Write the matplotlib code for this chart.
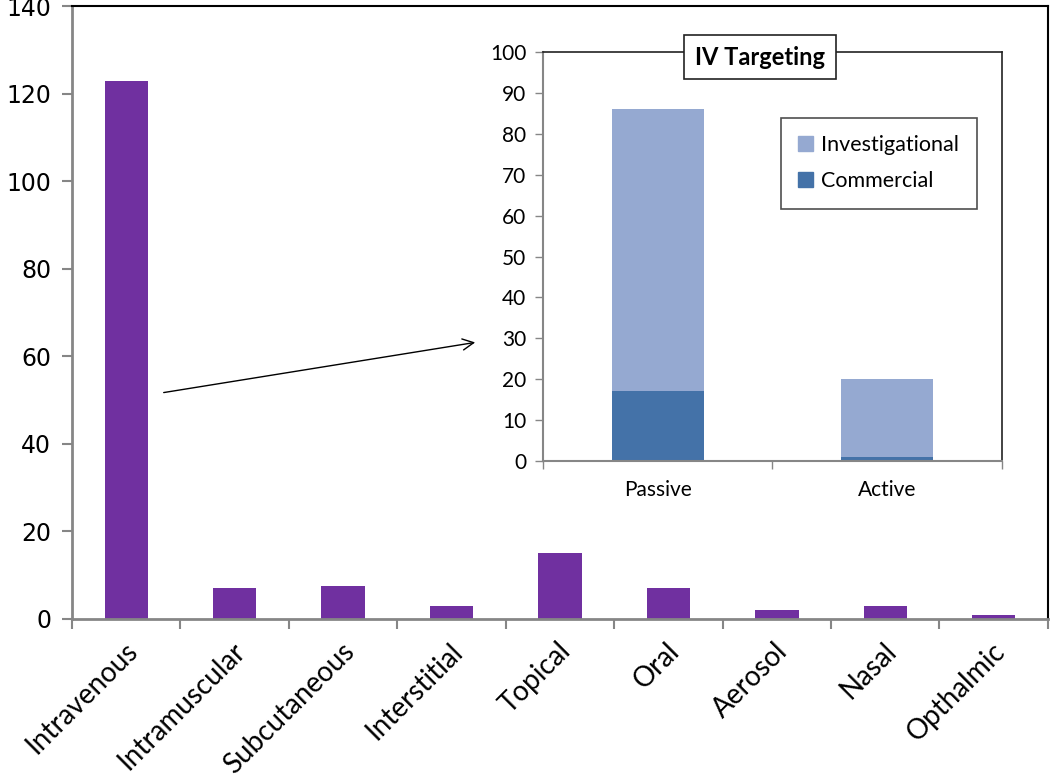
import matplotlib
matplotlib.use("Agg")
import matplotlib.pyplot as plt
import matplotlib.transforms as mtransforms
from matplotlib.patches import Patch, FancyArrowPatch
import numpy as np

# ---- data ----
routes = ["Intravenous", "Intramuscular", "Subcutaneous", "Interstitial", "Topical",
          "Oral", "Aerosol", "Nasal", "Opthalmic"]
route_counts = [123, 7, 7.5, 3, 15, 7, 2, 3, 0.8]
main_yticks = [0, 20, 40, 60, 80, 100, 120, 140]

targeting = ["Passive", "Active"]
commercial = [17, 1]
investigational = [69, 19]
inset_yticks = list(range(0, 101, 10))

PURPLE = "#7030A0"
INV = "#95A9D1"
COM = "#4472A8"
GRAY = "#868686"

fig = plt.figure(figsize=(10.5, 7.79), dpi=100)

# ---- main axes ----
ax = fig.add_axes([0.0686, 0.2054, 0.9294, 0.7863])
x = np.arange(len(routes))
ax.bar(x, route_counts, width=0.4, color=PURPLE, zorder=2)
ax.set_xlim(-0.5, len(routes) - 0.5)
ax.set_ylim(0, 140)
ax.set_yticks(main_yticks)
ax.set_yticklabels([str(v) for v in main_yticks], fontsize=17, family="DejaVu Sans")
ax.tick_params(axis="y", length=7, width=1.5, color=GRAY, pad=8)
ax.set_xticks(x)
ax.set_xticklabels(routes, rotation=45, ha="right", va="center",
                   rotation_mode="anchor", fontsize=20, family="Lato")
ax.tick_params(axis="x", which="major", length=0, pad=0)
ax.set_xticks(np.arange(-0.5, len(routes) + 0.5, 1), minor=True)
ax.tick_params(axis="x", which="minor", length=7, width=1.5, color=GRAY)
off = mtransforms.ScaledTranslation(0.07, -0.28, fig.dpi_scale_trans)
for lab in ax.get_xticklabels():
    lab.set_transform(lab.get_transform() + off)
for s in ["left", "bottom"]:
    ax.spines[s].set_color(GRAY)
    ax.spines[s].set_linewidth(2)
for s in ["top", "right"]:
    ax.spines[s].set_color("black")
    ax.spines[s].set_linewidth(1.5)

# ---- inset axes ----
ins = fig.add_axes([0.5171, 0.4082, 0.4372, 0.5250])
xi = np.arange(len(targeting))
ins.bar(xi, commercial, width=0.4, color=COM, label="Commercial", zorder=2)
ins.bar(xi, investigational, width=0.4, bottom=commercial, color=INV,
        label="Investigational", zorder=2)
ins.set_xlim(-0.5, len(targeting) - 0.5)
ins.set_ylim(0, 100)
ins.set_yticks(inset_yticks)
ins.set_yticklabels([str(v) for v in inset_yticks], fontsize=15, family="Lato")
ins.tick_params(axis="y", length=6, width=1, color=GRAY, pad=6)
ins.set_xticks(xi)
ins.set_xticklabels(targeting, fontsize=15, family="Lato")
ins.tick_params(axis="x", which="major", length=0, pad=14)
ins.set_xticks(np.arange(-0.5, len(targeting) + 0.5, 1), minor=True)
ins.tick_params(axis="x", which="minor", length=6, width=1, color=GRAY)
for s in ["left", "bottom"]:
    ins.spines[s].set_color(GRAY)
    ins.spines[s].set_linewidth(1.5)
for s in ["top", "right"]:
    ins.spines[s].set_color("#222222")
    ins.spines[s].set_linewidth(1.2)

handles = [Patch(color=INV, label="Investigational"), Patch(color=COM, label="Commercial")]
leg = ins.legend(handles=handles, loc="upper right", bbox_to_anchor=(0.968, 0.865),
                 prop={"family": "Lato", "size": 15.5}, frameon=True, fancybox=False,
                 handlelength=0.7, handleheight=0.7, handletextpad=0.4,
                 labelspacing=0.75, borderpad=0.8, edgecolor="#222222")
leg.get_frame().set_linewidth(1.2)

fig.text(0.7238, 0.9268, "IV Targeting", ha="center", va="center",
         fontsize=17, fontweight="bold", family="Lato",
         bbox=dict(boxstyle="square,pad=0.45", facecolor="white",
                   edgecolor="#222222", linewidth=1.2))

# ---- arrow ----
fig.add_artist(FancyArrowPatch(
    (0.1533, 0.4955), (0.4552, 0.5610), transform=fig.transFigure,
    arrowstyle="->,head_length=8,head_width=4", color="black", lw=1,
    mutation_scale=1))

fig.savefig("out.png", dpi=100)
